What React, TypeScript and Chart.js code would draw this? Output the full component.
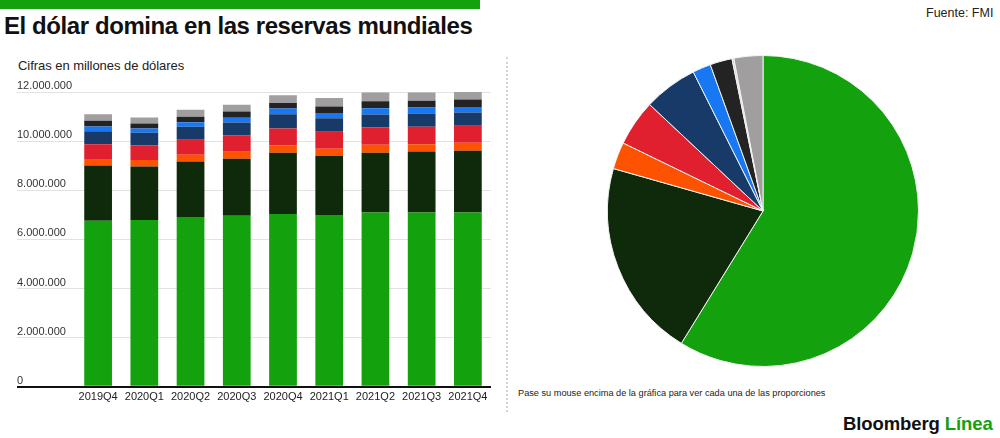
import React, { useEffect, useRef } from "react";
import Chart from "chart.js/auto";

const categories = ["2019Q4", "2020Q1", "2020Q2", "2020Q3", "2020Q4", "2021Q1", "2021Q2", "2021Q3", "2021Q4"];
const usd = [6760000, 6789000, 6911000, 6963000, 7033000, 6992000, 7100000, 7100000, 7100000];
const eur = [2252000, 2182000, 2264000, 2317000, 2491000, 2410000, 2424000, 2481000, 2506000];
const cny = [256000, 257000, 268000, 285000, 301000, 285000, 326000, 297000, 325000];
const jpy = [610000, 609000, 610000, 679000, 691000, 691000, 707000, 703000, 691000];
const gbp = [529000, 501000, 528000, 516000, 582000, 557000, 528000, 545000, 545000];
const aud = [190000, 178000, 191000, 187000, 231000, 215000, 256000, 244000, 227000];
const cad = [228000, 204000, 216000, 260000, 228000, 260000, 285000, 270000, 301000];
const otras = [273000, 243000, 286000, 269000, 313000, 350000, 354000, 340000, 378000];

const yTicks = [0, 2000000, 4000000, 6000000, 8000000, 10000000, 12000000];

const pieLabels = [
  "Dólar estadounidense",
  "Euro",
  "Renminbi chino",
  "Libra esterlina",
  "Yen japonés",
  "Dólar australiano",
  "Dólar canadiense",
  "Franco suizo",
  "Otras",
];
const pieValues = [58.8, 20.6, 2.8, 4.8, 5.6, 1.9, 2.3, 0.2, 3.0];

const C_USD = "#13a10e";
const C_EUR = "#0f2a0b";
const C_CNY = "#fd5200";
const C_RED = "#e0202e";
const C_NAVY = "#183a68";
const C_BLUE = "#1877f2";
const C_BLACK = "#232323";
const C_GRAY = "#a09e9e";
const C_CHF = "#d9d9d9";

const pieColors = [C_USD, C_EUR, C_CNY, C_RED, C_NAVY, C_BLUE, C_BLACK, C_CHF, C_GRAY];

const fmt = (v: number) => String(Math.round(v)).replace(/\B(?=(\d{3})+(?!\d))/g, ".");

function BarChart() {
  const ref = useRef<HTMLCanvasElement | null>(null);
  useEffect(() => {
    if (!ref.current) return;
    const series = [
      { label: "Dólar estadounidense", data: usd, color: C_USD },
      { label: "Euro", data: eur, color: C_EUR },
      { label: "Renminbi chino", data: cny, color: C_CNY },
      { label: "Yen japonés", data: jpy, color: C_RED },
      { label: "Libra esterlina", data: gbp, color: C_NAVY },
      { label: "Dólar australiano", data: aud, color: C_BLUE },
      { label: "Dólar canadiense", data: cad, color: C_BLACK },
      { label: "Otras", data: otras, color: C_GRAY },
    ];
    const chart = new Chart(ref.current, {
      type: "bar",
      data: {
        labels: categories,
        datasets: series.map((s) => ({
          label: s.label,
          data: s.data,
          backgroundColor: s.color,
          borderWidth: 0,
          categoryPercentage: 1,
          barPercentage: 0.6,
        })),
      },
      options: {
        animation: false,
        responsive: false,
        maintainAspectRatio: false,
        layout: { padding: { top: 14, right: 9, bottom: 2, left: 0 } },
        plugins: { legend: { display: false }, tooltip: { enabled: true } },
        scales: {
          x: {
            stacked: true,
            grid: { display: false, drawTicks: false, tickLength: 0 },
            border: { display: false },
            ticks: {
              color: "#222",
              font: { family: "Liberation Sans", size: 11 },
              padding: 4,
              maxRotation: 0,
            },
          },
          y: {
            stacked: true,
            min: 0,
            max: 12000000,
            afterBuildTicks: (scale: any) => {
              scale.ticks = yTicks.map((v) => ({ value: v }));
            },
            afterFit: (scale: any) => {
              scale.width = 58;
            },
            border: { display: false },
            grid: {
              color: (ctx: any) => (ctx.tick && ctx.tick.value === 0 ? "#111" : "#e2e2e2"),
              lineWidth: (ctx: any) => (ctx.tick && ctx.tick.value === 0 ? 2 : 1),
              tickLength: 58,
              drawTicks: true,
            },
            ticks: {
              crossAlign: "far",
              labelOffset: -6,
              padding: 0,
              color: "#333",
              font: { family: "Liberation Sans", size: 11 },
              callback: (v: any) => fmt(Number(v)),
            },
          },
        },
      } as any,
    });
    return () => chart.destroy();
  }, []);
  return <canvas ref={ref} width={483} height={332} style={{ width: 483, height: 332, display: "block" }} />;
}

function PieChart() {
  const ref = useRef<HTMLCanvasElement | null>(null);
  useEffect(() => {
    if (!ref.current) return;
    const chart = new Chart(ref.current, {
      type: "pie",
      data: {
        labels: pieLabels,
        datasets: [
          {
            data: pieValues,
            backgroundColor: pieColors,
            borderColor: "#f2f2f2",
            borderWidth: 1,
          },
        ],
      },
      options: {
        animation: false,
        responsive: false,
        maintainAspectRatio: false,
        layout: { padding: 0 },
        plugins: { legend: { display: false } },
      } as any,
    });
    return () => chart.destroy();
  }, []);
  return <canvas ref={ref} width={312} height={312} style={{ width: 312, height: 312, display: "block" }} />;
}

export default function App() {
  const base: React.CSSProperties = {
    position: "absolute",
    margin: 0,
    whiteSpace: "nowrap",
    fontFamily: "'Liberation Sans', Arial, sans-serif",
  };
  return (
    <div
      style={{
        position: "absolute",
        left: 0,
        top: 0,
        width: 1000,
        height: 438,
        background: "#fff",
        overflow: "hidden",
        fontFamily: "'Liberation Sans', Arial, sans-serif",
      }}
    >
      <div style={{ position: "absolute", left: 0, top: 0, width: 480, height: 9, background: C_USD }} />
      <div
        style={{
          ...base,
          left: 4,
          top: 11,
          fontSize: 24,
          fontWeight: 700,
          letterSpacing: -0.42,
          color: "#111",
          lineHeight: "30px",
        }}
      >
        El dólar domina en las reservas mundiales
      </div>
      <div style={{ ...base, left: 18, top: 58, fontSize: 13, color: "#222", lineHeight: "16px", letterSpacing: -0.05 }}>
        Cifras en millones de dólares
      </div>
      <div style={{ ...base, left: 926, top: 5, fontSize: 12.5, color: "#222", lineHeight: "16px" }}>Fuente: FMI</div>
      <div style={{ position: "absolute", left: 17, top: 78 }}>
        <BarChart />
      </div>
      <div
        style={{
          position: "absolute",
          left: 506,
          top: 57,
          height: 355,
          width: 0,
          borderLeft: "2px dotted #d4d4d4",
        }}
      />
      <div style={{ position: "absolute", left: 607, top: 55 }}>
        <PieChart />
      </div>
      <div style={{ ...base, left: 518, top: 387, fontSize: 9.2, color: "#222", lineHeight: "12px" }}>
        Pase su mouse encima de la gráfica para ver cada una de las proporciones
      </div>
      <div
        style={{
          ...base,
          left: 843,
          top: 413,
          fontSize: 18.5,
          fontWeight: 700,
          color: "#111",
          lineHeight: "22px",
          letterSpacing: -0.1,
        }}
      >
        Bloomberg <span style={{ color: C_USD }}>Línea</span>
      </div>
    </div>
  );
}
